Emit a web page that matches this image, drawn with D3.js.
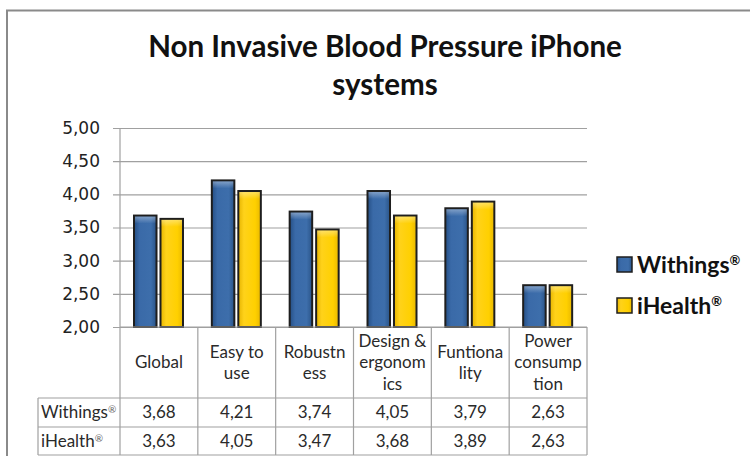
<!DOCTYPE html>
<html>
<head>
<meta charset="utf-8">
<script src="https://cdn.jsdelivr.net/npm/d3@7"></script>
<style>
  body { margin: 0; background: #fff; }
  svg { display: block; }
  .ytick text { font-family: "DejaVu Sans", sans-serif; font-size: 17px; fill: #222; }
  .cell { font-family: Lato, "Open Sans", sans-serif; font-size: 17px; fill: #2a2a2a; }
</style>
</head>
<body>
<svg id="chart"></svg>
<script>
// chart data
const categories = ['Global', 'Easy to use', 'Robustness', 'Design & ergonomics', 'Funtionality', 'Power consumption'];
const headerLines = [['Global'], ['Easy to', 'use'], ['Robustn', 'ess'], ['Design &', 'ergonom', 'ics'], ['Funtiona', 'lity'], ['Power', 'consump', 'tion']];
const seriesNames = ['Withings', 'iHealth'];
const withings = [3.68, 4.21, 3.74, 4.05, 3.79, 2.63];
const ihealth = [3.63, 4.05, 3.47, 3.68, 3.89, 2.63];
const yTicks = [2, 2.5, 3, 3.5, 4, 4.5, 5];

const W = 750, H = 456;
const plot = {left: 120, right: 587, top: 128, bottom: 327};
const rowH = [398, 427, 455]; // bottom of header row, withings row, ihealth row
const labelLeft = 38;

const svg = d3.select('#chart').attr('width', W).attr('height', H);

// gradients for the bevelled bars
const defs = svg.append('defs');
const grads = [
  {id: 'gBlue', stops: ['#254f85', '#3a6aa8', '#3d6eab', '#2a5488']},
  {id: 'gYellow', stops: ['#e6b400', '#ffd21a', '#ffd000', '#e9b800']}
];
grads.forEach(g => {
  const lg = defs.append('linearGradient').attr('id', g.id).attr('x1', 0).attr('x2', 1).attr('y1', 0).attr('y2', 0);
  [0, 0.25, 0.75, 1].forEach((o, i) => lg.append('stop').attr('offset', o).attr('stop-color', g.stops[i]));
});
const shine = defs.append('linearGradient').attr('id', 'gShine').attr('x1', 0).attr('x2', 0).attr('y1', 0).attr('y2', 1);
shine.append('stop').attr('offset', 0).attr('stop-color', '#fff').attr('stop-opacity', 0.35);
shine.append('stop').attr('offset', 1).attr('stop-color', '#fff').attr('stop-opacity', 0);
const fills = ['url(#gBlue)', 'url(#gYellow)'];

// outer frame
svg.append('rect')
    .attr('x', 7).attr('y', 10.5)
    .attr('width', W).attr('height', H)
    .attr('fill', 'none').attr('stroke', '#8a8a8a').attr('stroke-width', 2);

// title
const title = svg.append('text')
    .attr('text-anchor', 'middle')
    .attr('font-family', 'Lato, "Open Sans", sans-serif')
    .attr('font-weight', 'bold')
    .attr('fill', '#111');
title.append('tspan').attr('x', 385).attr('y', 57).text('Non Invasive Blood Pressure iPhone');
title.append('tspan').attr('x', 385).attr('y', 95).text('systems');
title.attr('font-size', 28);
const tl = title.select('tspan').node().getComputedTextLength();
title.attr('font-size', 28 * 474 / tl);

// scales
const x = d3.scaleBand().domain(categories).range([plot.left, plot.right]);
const xInner = d3.scaleBand().domain(seriesNames).range([14, 63]).paddingInner(0.15);
const y = d3.scaleLinear().domain([2, 5]).range([plot.bottom, plot.top]);

const locale = d3.formatLocale({decimal: ',', thousands: '.', grouping: [3], currency: ['', '']});
const fmt = locale.format('.2f');

// gridlines + y axis
const yAxis = d3.axisLeft(y).tickValues(yTicks).tickFormat(fmt)
    .tickSize(-(plot.right - plot.left + 7)).tickPadding(13);
const yG = svg.append('g').attr('class', 'ytick')
    .attr('transform', `translate(${plot.left - 7},0)`)
    .call(yAxis);
yG.select('.domain').remove();
yG.selectAll('line').attr('stroke', '#a0a0a0').attr('stroke-width', 1.2);

// plot left edge
svg.append('line')
    .attr('x1', plot.left).attr('x2', plot.left)
    .attr('y1', plot.top).attr('y2', plot.bottom)
    .attr('stroke', '#a0a0a0').attr('stroke-width', 1.2);

// bars
const rows = [withings, ihealth];
rows.forEach((vals, si) => {
  const g = svg.append('g');
  g.selectAll('rect.bar')
    .data(vals)
    .join('rect')
      .attr('class', 'bar')
      .attr('x', (d, i) => x(categories[i]) + xInner(seriesNames[si]))
      .attr('y', d => y(d))
      .attr('width', xInner.bandwidth())
      .attr('height', d => y(2) - y(d))
      .attr('fill', fills[si])
      .attr('stroke', '#1e1e1e')
      .attr('stroke-width', 2);
  // top highlight
  g.selectAll('rect.shine')
    .data(vals)
    .join('rect')
      .attr('class', 'shine')
      .attr('x', (d, i) => x(categories[i]) + xInner(seriesNames[si]) + 1)
      .attr('y', d => y(d) + 1)
      .attr('width', xInner.bandwidth() - 2)
      .attr('height', 7)
      .attr('fill', 'url(#gShine)');
});

// data table
const tableG = svg.append('g');
const gridColor = '#a0a0a0';
// horizontal lines
[[plot.left, plot.right, plot.bottom], [labelLeft, plot.right, rowH[0]], [labelLeft, plot.right, rowH[1]], [labelLeft, plot.right, rowH[2]]]
  .forEach(([x1, x2, yy]) => tableG.append('line')
    .attr('x1', x1).attr('x2', x2).attr('y1', yy).attr('y2', yy)
    .attr('stroke', gridColor).attr('stroke-width', 1.2));
// vertical lines
const bounds = categories.map(c => x(c)).concat([plot.right]);
bounds.forEach(bx => tableG.append('line')
    .attr('x1', bx).attr('x2', bx).attr('y1', plot.bottom).attr('y2', rowH[2])
    .attr('stroke', gridColor).attr('stroke-width', 1.2));
tableG.append('line')
    .attr('x1', labelLeft).attr('x2', labelLeft).attr('y1', rowH[0]).attr('y2', rowH[2])
    .attr('stroke', gridColor).attr('stroke-width', 1.2);

// header text
const headMid = (plot.bottom + rowH[0]) / 2;
const lineH = 21.5;
headerLines.forEach((lines, i) => {
  const cx = x(categories[i]) + x.bandwidth() / 2;
  const t = tableG.append('text').attr('class', 'cell').attr('text-anchor', 'middle');
  lines.forEach((ln, k) => {
    t.append('tspan')
      .attr('x', cx)
      .attr('y', headMid + (k - (lines.length - 1) / 2) * lineH)
      .attr('dy', '0.35em')
      .text(ln);
  });
});

// value rows
rows.forEach((vals, si) => {
  const cy = si === 0 ? (rowH[0] + rowH[1]) / 2 : (rowH[1] + rowH[2]) / 2;
  const lab = tableG.append('text').attr('class', 'cell')
      .attr('x', labelLeft + 3).attr('y', cy).attr('dy', '0.35em');
  lab.append('tspan').text(seriesNames[si]);
  lab.append('tspan').attr('font-size', '10px').attr('dy', '-0.5em').attr('fill', '#666').text('®');
  vals.forEach((v, i) => {
    tableG.append('text').attr('class', 'cell')
      .attr('text-anchor', 'middle')
      .attr('x', x(categories[i]) + x.bandwidth() / 2)
      .attr('y', cy).attr('dy', '0.35em')
      .text(fmt(v));
  });
});

// legend
const legend = svg.append('g').attr('transform', 'translate(617,257)');
seriesNames.forEach((s, i) => {
  const g = legend.append('g').attr('transform', `translate(0,${i * 41})`);
  g.append('rect').attr('width', 15).attr('height', 15)
    .attr('fill', fills[i]).attr('stroke', '#1e1e1e').attr('stroke-width', 1.5);
  const t = g.append('text')
    .attr('x', 20).attr('y', 7.5).attr('dy', '0.36em')
    .attr('font-family', 'Lato, "Open Sans", sans-serif')
    .attr('font-weight', 'bold').attr('font-size', 23).attr('fill', '#111');
  t.append('tspan').text(s);
  t.append('tspan').attr('font-size', 13).attr('dy', '-0.6em').text('®');
});
</script>
</body>
</html>
